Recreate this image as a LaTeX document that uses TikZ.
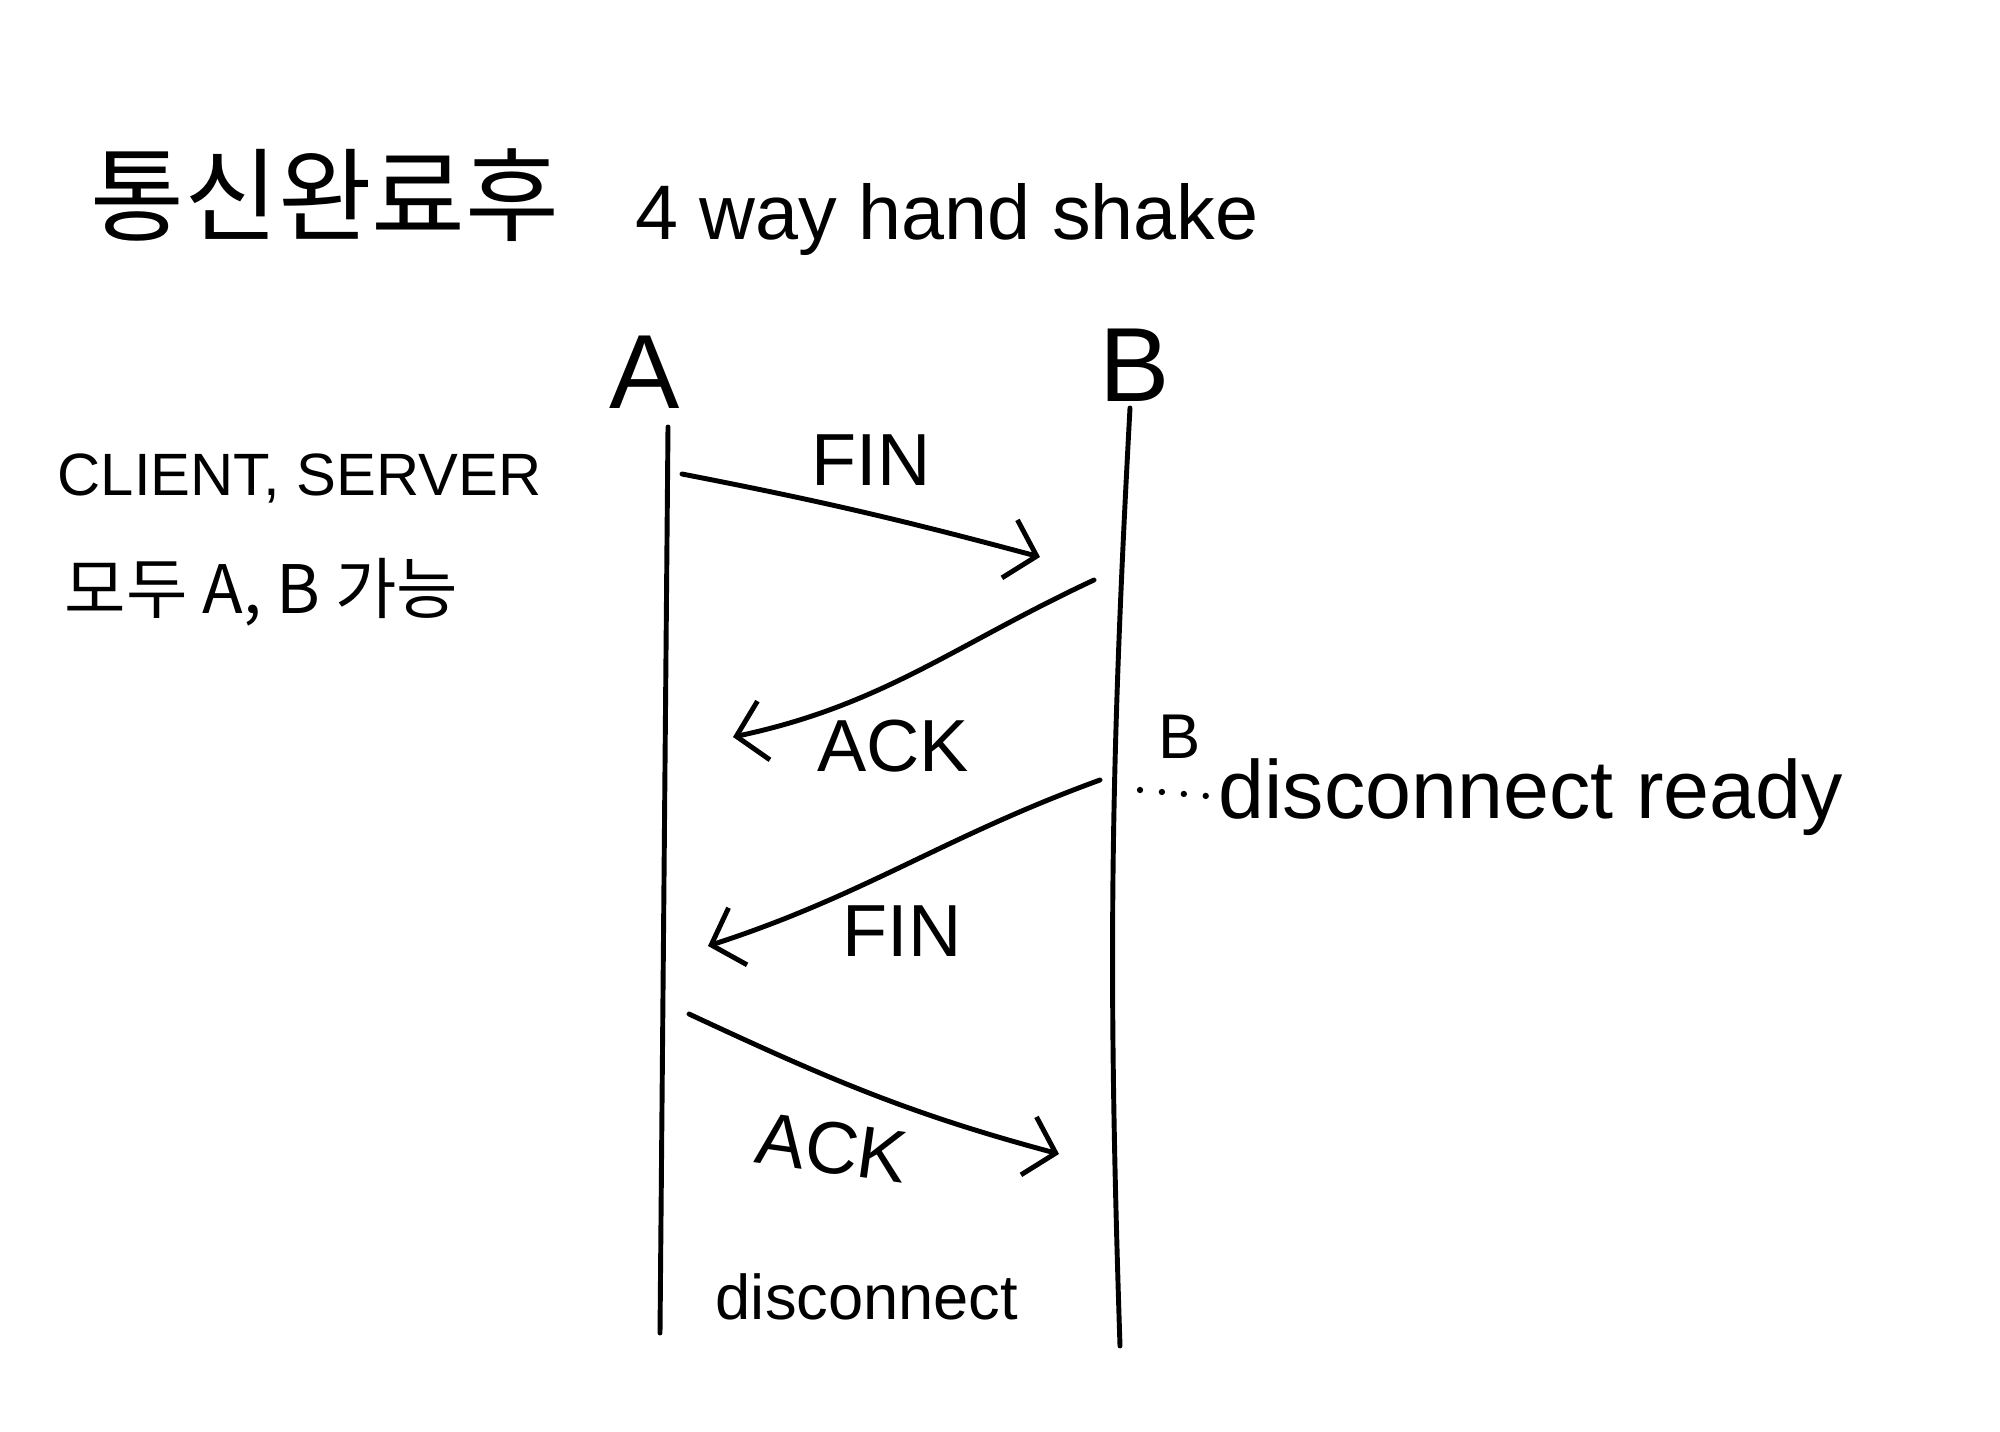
\documentclass[tikz,border=0pt]{standalone}
\usepackage{fontspec}
\setmainfont{Liberation Sans}
\newfontfamily\krfont{Noto Sans CJK KR}
\usetikzlibrary{arrows.meta}

\begin{document}
\begin{tikzpicture}[
    line/.style={line width=1.4pt, line cap=round},
    arrow/.style={line, -{Straight Barb[length=2.8mm, width=6mm, line width=1.4pt]}},
    msg/.style={font=\fontsize{21}{24}\selectfont, inner sep=1pt},
    party/.style={font=\fontsize{30}{34}\selectfont, inner sep=1pt},
    note/.style={font=\fontsize{17}{21}\selectfont, anchor=west, inner sep=0pt}
]
    \useasboundingbox (0,0) rectangle (20,-14.32);

    % title
    \node[font=\krfont\fontsize{29}{32}\selectfont] (titlekr) at (3.25,-1.95) {통신완료후};
    \node[font=\fontsize{22}{26}\selectfont] (titleen) at (9.47,-2.20) {4 way hand shake};

    % side note
    \node[note] (roles) at (0.57,-4.78) {CLIENT, SERVER};
    \node[note, font=\krfont\fontsize{19}{23}\selectfont] (both) at (0.64,-5.92) {모두 A, B 가능};

    % hosts and lifelines
    \node[party] (hostA) at (6.45,-3.72) {A};
    \node[party] (hostB) at (11.35,-3.65) {B};
    \coordinate (topA) at (6.68,-4.27);
    \coordinate (botA) at (6.60,-13.33);
    \coordinate (topB) at (11.30,-4.08);
    \coordinate (botB) at (11.20,-13.46);
    \draw[line] (topA) -- (botA);
    \draw[line] (topB) to[bend right=2.5] (botB);

    % message ends
    \coordinate (a1) at (6.82,-4.74);
    \coordinate (b1) at (10.40,-5.57);
    \coordinate (b2) at (10.94,-5.80);
    \coordinate (a2) at (7.33,-7.37);
    \coordinate (b3) at (11.00,-7.80);
    \coordinate (a3) at (7.08,-9.46);
    \coordinate (a4) at (6.89,-10.14);
    \coordinate (b4) at (10.59,-11.54);

    \draw[arrow] (a1) to[out=-11, in=165] (b1);
    \draw[arrow] (b2) to[out=205, in=12] (a2);
    \draw[arrow] (b3) to[out=200, in=18] (a3);
    \draw[arrow] (a4) to[out=-25, in=165] (b4);

    \node[msg] (fin1) at (8.71,-4.60) {FIN};
    \node[msg] (ack1) at (8.93,-7.46) {ACK};
    \node[msg] (fin2) at (9.02,-9.31) {FIN};
    \node[msg, rotate=-8] (ack2) at (8.32,-11.48) {ACK};
    \node[font=\fontsize{18}{22}\selectfont] (closed) at (8.67,-12.97) {disconnect};

    % B ready
    \node[font=\fontsize{18}{22}\selectfont] (readyB) at (11.80,-7.37) {B};
    \node[anchor=west, inner sep=0pt, font=\fontsize{23.5}{27}\selectfont] (ready) at (12.18,-7.97) {disconnect ready};
    \coordinate (dotsB) at (11.40,-7.90);
    \draw[line width=1.8pt, line cap=round, dash pattern=on 0pt off 2.2mm] (dotsB) -- (ready.west);
\end{tikzpicture}
\end{document}
